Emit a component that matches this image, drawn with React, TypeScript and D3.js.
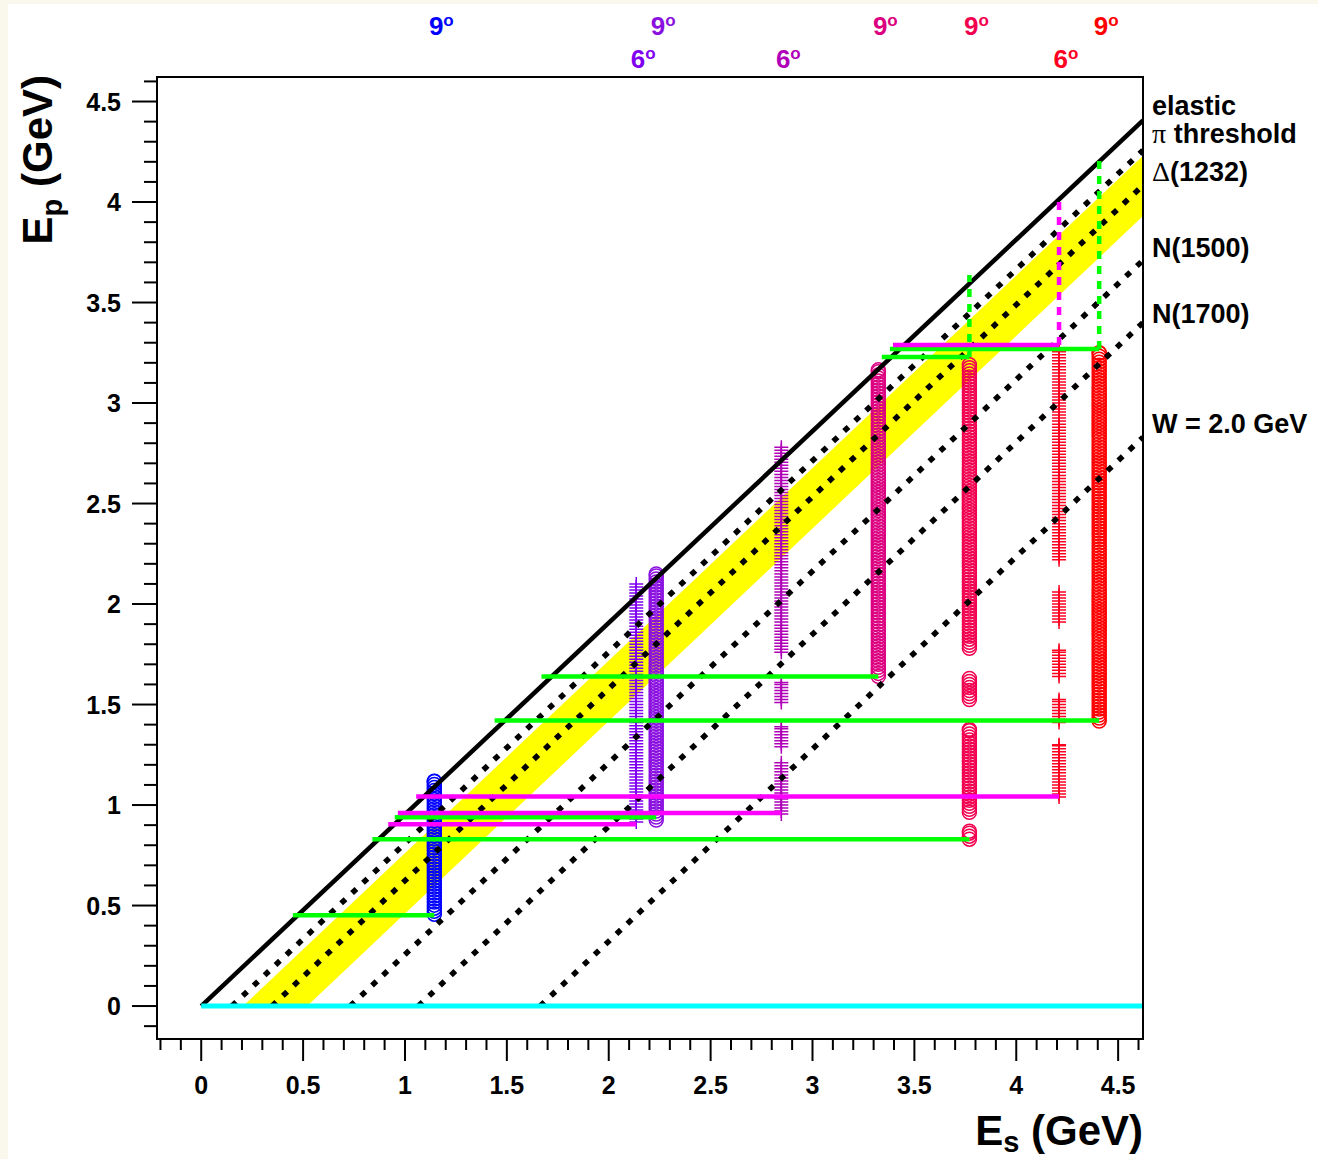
import React from 'react';
import * as d3 from 'd3';

const W = 1318;
const H = 1159;
const xDomain = [-0.217, 4.622];
const yDomain = [-0.164, 4.622];

const xTickLabels = ['0', '0.5', '1', '1.5', '2', '2.5', '3', '3.5', '4', '4.5'];
const yTickLabels = ['0', '0.5', '1', '1.5', '2', '2.5', '3', '3.5', '4', '4.5'];

// kinematic lines: start at Ep = 0 (Es value) and end at right frame edge (Ep value)
const lineNames = ['elastic', 'threshold', '(1232)', 'N(1500)', 'N(1700)', 'W = 2.0 GeV'];
const lineSymbols = ['', 'π', 'Δ', '', '', ''];
const lineStartEs = [0, 0.15, 0.347, 0.731, 1.065, 1.663];
const lineEndEp = [4.406, 4.257, 4.083, 3.71, 3.4, 2.83];
const lineDashed = [false, true, true, true, true, true];
const labelEp = [4.432, 4.292, 4.104, 3.726, 3.398, 2.851];

// Delta band (yellow): Es at Ep = 0 and Ep at right edge for upper / lower boundary
const bandStartEs = [0.206, 0.52];
const bandEndEp = [4.23, 3.93];

// measured columns
const colEs = [1.144, 2.135, 2.233, 2.847, 3.323, 3.77, 4.21, 4.407];
const colAngle = ['9', '6', '9', '6', '9', '9', '6', '9'];
const colMarker = ['circle', 'cross', 'circle', 'cross', 'circle', 'circle', 'cross', 'circle'];
const colColor = ['#0000ff', '#7f00f0', '#8a10e0', '#b000b8', '#dc0080', '#f20050', '#ff0020', '#ff0000'];
const colSegments = [
  [[0.457, 1.118]],
  [[0.915, 2.1]],
  [[0.925, 2.15]],
  [[0.955, 1.21], [1.29, 1.39], [1.51, 1.61], [1.76, 2.78]],
  [[1.64, 3.165]],
  [[0.83, 0.87], [0.964, 1.376], [1.525, 1.63], [1.78, 3.19]],
  [[1.04, 1.3], [1.41, 1.525], [1.64, 1.77], [1.91, 2.06], [2.22, 3.27]],
  [[1.418, 3.25]],
];
const markerStep = 0.015;

// horizontal coverage lines
const hLineEp = [0.452, 0.939, 1.64, 0.83, 1.42, 3.229, 3.269, 0.905, 0.96, 1.043, 3.289];
const hLineEs0 = [0.45, 0.95, 1.67, 0.84, 1.44, 3.34, 3.38, 0.918, 0.965, 1.055, 3.395];
const hLineEs1 = [1.144, 2.233, 3.323, 3.77, 4.407, 3.77, 4.407, 2.135, 2.847, 4.21, 4.21];
const hLineColor = ['#00ff00', '#00ff00', '#00ff00', '#00ff00', '#00ff00', '#00ff00', '#00ff00', '#ff00ff', '#ff00ff', '#ff00ff', '#ff00ff'];

// vertical dotted lines up to elastic
const vLineEs = [3.77, 4.21, 4.407];
const vLineEp0 = [3.229, 3.289, 3.269];
const vLineEp1 = [3.637, 4.035, 4.219];
const vLineColor = ['#00ff00', '#ff00ff', '#00ff00'];

const FONT = '"Liberation Sans", Arial, Helvetica, sans-serif';

export default function App() {
  const x = d3.scaleLinear().domain(xDomain).range([157, 1143]);
  const y = d3.scaleLinear().domain(yDomain).range([1039, 77]);
  const x0 = x.range()[0], x1 = x.range()[1];
  const yb = y.range()[0], yt = y.range()[1];

  const xTicks = d3.range(-2, 47).map((i) => i / 10);
  const yTicks = d3.range(-1, 47).map((i) => i / 10);

  const line = d3.line<[number, number]>().x((d) => x(d[0])).y((d) => y(d[1]));

  const bandPoly: [number, number][] = [
    [bandStartEs[0], 0],
    [xDomain[1], bandEndEp[0]],
    [xDomain[1], bandEndEp[1]],
    [bandStartEs[1], 0],
  ];

  const crossPath = (cx: number, cy: number, s: number) =>
    `M${cx - s},${cy}H${cx + s}M${cx},${cy - s}V${cy + s}`;

  return (
    <svg width={W} height={H} style={{ position: 'absolute', left: 0, top: 0 }} fontFamily={FONT}>
      <rect x={0} y={0} width={W} height={H} fill="#faf8ec" />
      <rect x={8} y={4} width={W - 8} height={H - 4} fill="#ffffff" />
      <defs>
        <clipPath id="plotclip">
          <rect x={x0} y={yt} width={x1 - x0} height={yb - yt} />
        </clipPath>
      </defs>

      <g clipPath="url(#plotclip)">
        <path d={line(bandPoly) + 'Z'} fill="#ffff00" />

        {colEs.map((es, ci) => (
          <g key={'col' + ci} stroke={colColor[ci]} fill="none" strokeWidth={1.5}>
            {colSegments[ci].map((seg, si) => {
              const pts = d3.range(seg[0], seg[1] + 1e-6, markerStep);
              if (pts[pts.length - 1] < seg[1] - 1e-4) pts.push(seg[1]);
              return pts.map((ep, pi) =>
                colMarker[ci] === 'circle' ? (
                  <circle key={si + '-' + pi} cx={x(es)} cy={y(ep)} r={7} />
                ) : (
                  <path key={si + '-' + pi} d={crossPath(x(es), y(ep), 7)} />
                )
              );
            })}
          </g>
        ))}

        {lineNames.map((n, i) => (
          <path
            key={'ln' + i}
            d={line([[lineStartEs[i], 0], [xDomain[1], lineEndEp[i]]]) || ''}
            stroke="#000"
            strokeWidth={lineDashed[i] ? 5.5 : 4.5}
            strokeDasharray={lineDashed[i] ? '6 9' : undefined}
            fill="none"
          />
        ))}

        {vLineEs.map((es, i) => (
          <path
            key={'vl' + i}
            d={line([[es, vLineEp0[i]], [es, vLineEp1[i]]]) || ''}
            stroke={vLineColor[i]}
            strokeWidth={4.5}
            strokeDasharray="8 7"
            fill="none"
          />
        ))}

        {hLineEp.map((ep, i) => (
          <path
            key={'hl' + i}
            d={line([[hLineEs0[i], ep], [hLineEs1[i], ep]]) || ''}
            stroke={hLineColor[i]}
            strokeWidth={4.5}
            fill="none"
          />
        ))}

        <path d={line([[0, 0], [xDomain[1], 0]]) || ''} stroke="#00ffff" strokeWidth={5} fill="none" />
      </g>

      {/* frame */}
      <rect x={x0} y={yt} width={x1 - x0} height={yb - yt} fill="none" stroke="#000" strokeWidth={2} />

      {/* ticks */}
      <g stroke="#000" strokeWidth={2}>
        {xTicks.map((t) => {
          const major = Math.abs(Math.round(t * 10) % 5) === 0;
          return <line key={'xt' + t} x1={x(t)} x2={x(t)} y1={yb} y2={yb + (major ? 22 : 11)} />;
        })}
        {yTicks.map((t) => {
          const major = Math.abs(Math.round(t * 10) % 5) === 0;
          return <line key={'yt' + t} x1={x0} x2={x0 - (major ? 25 : 13)} y1={y(t)} y2={y(t)} />;
        })}
      </g>

      <g fontSize={25} fontWeight="bold" fill="#000">
        {xTickLabels.map((l) => (
          <text key={'xl' + l} x={x(+l)} y={1094} textAnchor="middle">{l}</text>
        ))}
        {yTickLabels.map((l) => (
          <text key={'yl' + l} x={121} y={y(+l) + 9} textAnchor="end">{l}</text>
        ))}
      </g>

      {/* axis titles */}
      <text x={x1} y={1145} textAnchor="end" fontSize={42} fontWeight="bold">
        E<tspan fontSize={29} dy={7}>s</tspan>
        <tspan dy={-7}> (GeV)</tspan>
      </text>
      <text transform={`translate(52, ${yt - 2}) rotate(-90)`} textAnchor="end" fontSize={42} fontWeight="bold">
        E<tspan fontSize={29} dy={10}>p</tspan>
        <tspan dy={-10}> (GeV)</tspan>
      </text>

      {/* line labels */}
      <g fontSize={27} fontWeight="bold">
        {lineNames.map((n, i) => (
          <text key={'lab' + i} x={1152} y={y(labelEp[i])}>
            {lineSymbols[i] ? (
              <tspan fontFamily='"Liberation Serif", "DejaVu Serif", serif' fontWeight="normal" fontSize={28}>
                {lineSymbols[i]}
              </tspan>
            ) : null}
            {lineSymbols[i] === 'π' ? ' ' + n : n}
          </text>
        ))}
      </g>

      {/* angle labels */}
      <g fontSize={26} fontWeight="bold">
        {colEs.map((es, i) => (
          <text
            key={'ang' + i}
            x={x(es) + 7}
            y={colAngle[i] === '9' ? 35 : 68}
            textAnchor="middle"
            fill={colColor[i]}
          >
            {colAngle[i]}
            <tspan fontSize={17} dy={-9}>o</tspan>
          </text>
        ))}
      </g>
    </svg>
  );
}
